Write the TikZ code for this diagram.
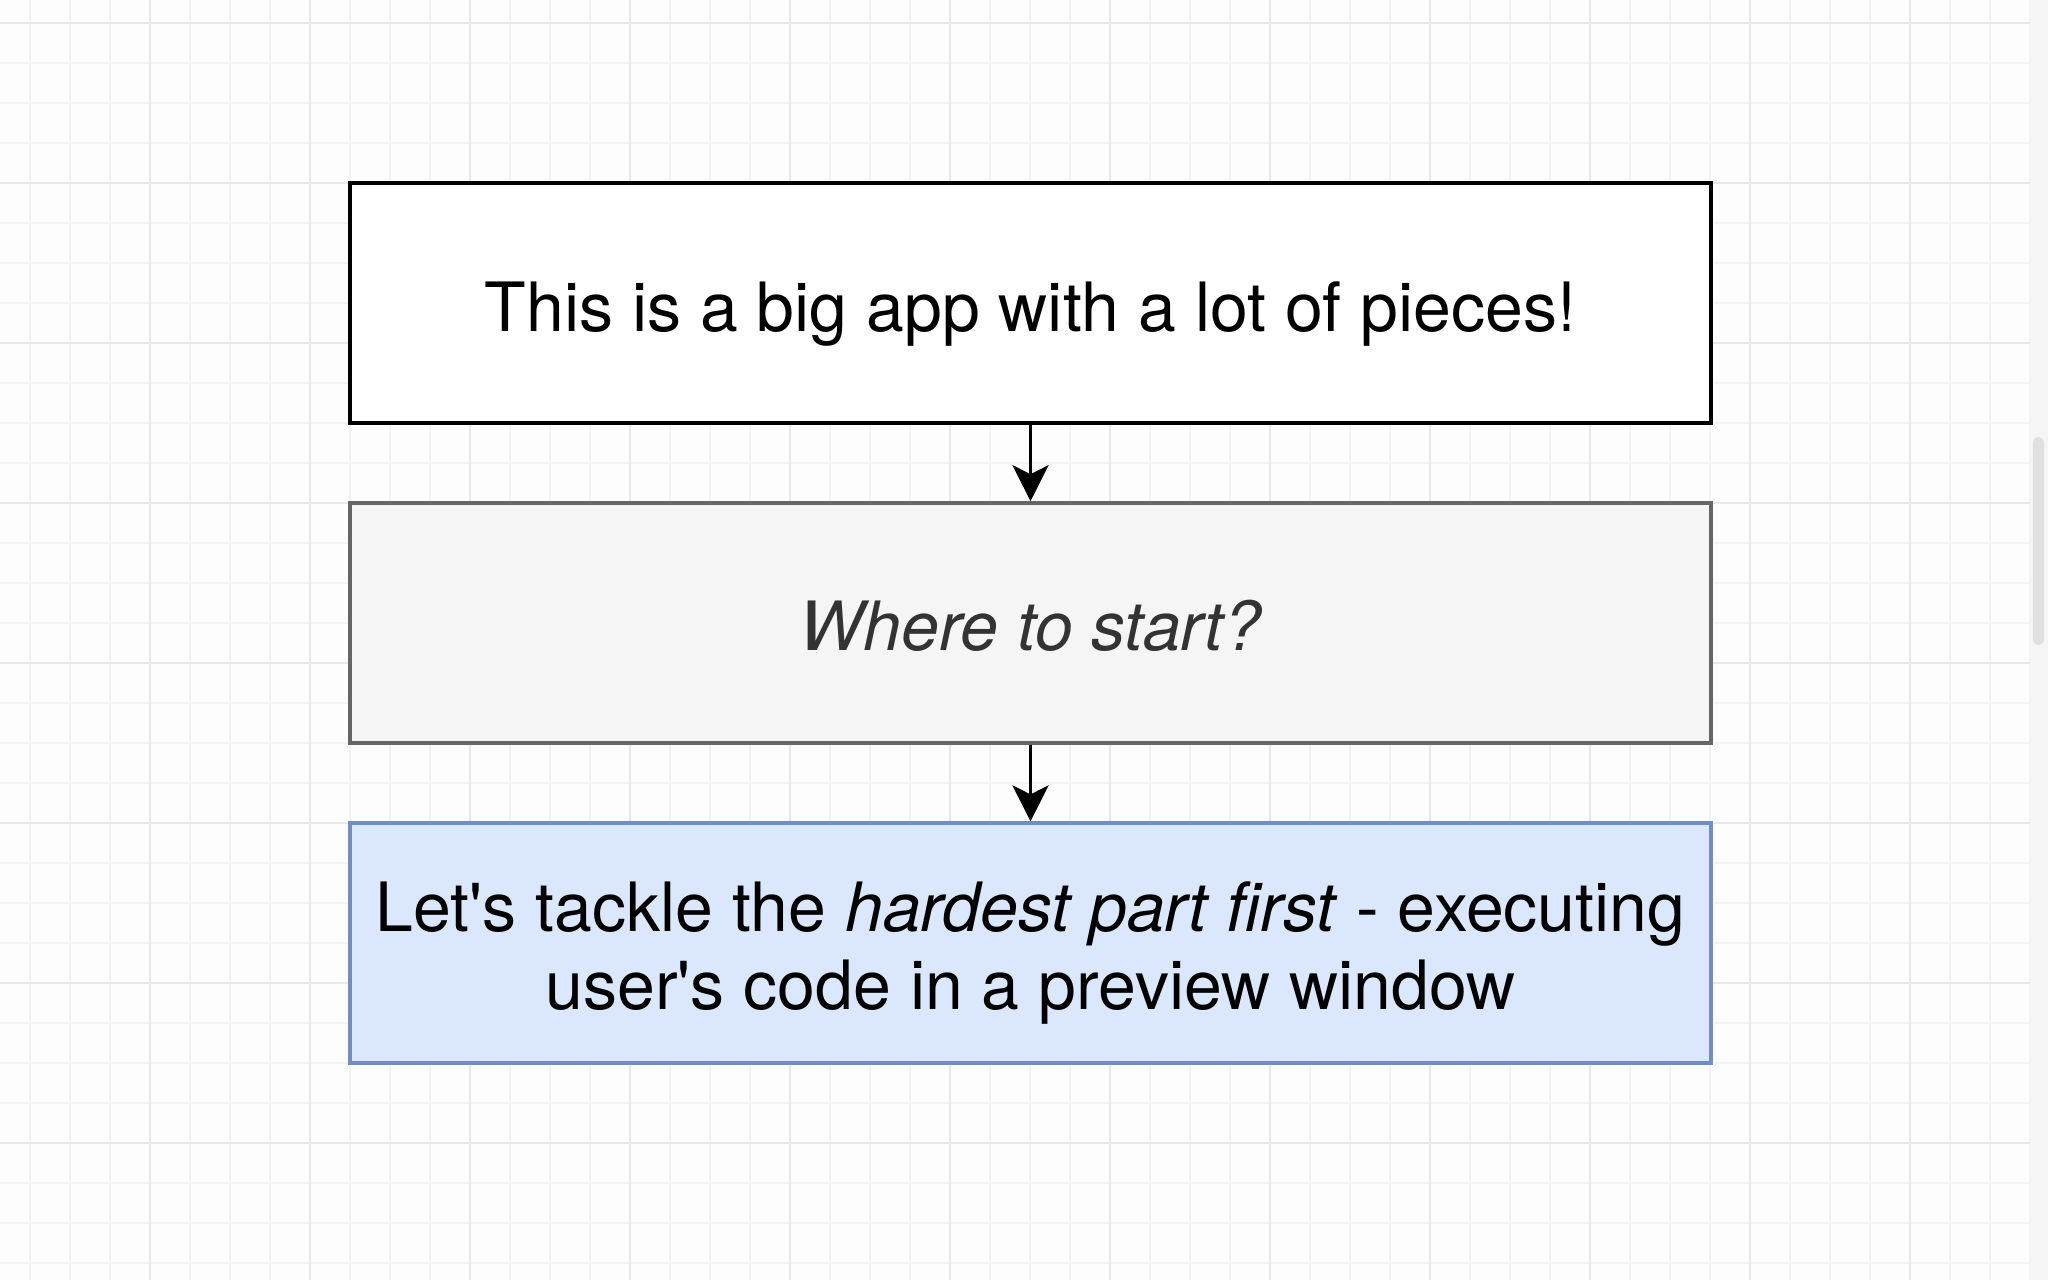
\documentclass[tikz,border=0pt]{standalone}
\usepackage{fontspec}
\setmainfont{TeX Gyre Heros}[Ligatures=TeXOff]
\usetikzlibrary{arrows.meta}
\definecolor{bgc}{HTML}{FDFDFD}
\definecolor{gminor}{HTML}{F3F3F4}
\definecolor{gmajor}{HTML}{E8E8EA}
\definecolor{greyfill}{HTML}{F5F5F6}
\definecolor{greyline}{HTML}{666666}
\definecolor{greytext}{HTML}{333333}
\definecolor{bluefill}{HTML}{DAE7FC}
\definecolor{blueline}{HTML}{6E8FC0}
\tikzset{
  basebox/.style={rectangle, minimum width=680.5pt, minimum height=120pt, inner sep=0pt,
    align=center, font=\fontsize{34}{39}\selectfont, line width=1.8pt},
  whitebox/.style={basebox, draw=black, fill=white, text=black},
  greybox/.style={basebox, draw=greyline, fill=greyfill, text=greytext},
  bluebox/.style={basebox, draw=blueline, fill=bluefill, text=black, line width=1.6pt},
  flow/.style={draw=black, line width=1.7pt, -{Stealth[length=18pt, width=18pt, inset=4.5pt]}},
  minorline/.style={draw=gminor, line width=0.6pt},
  majorline/.style={draw=gmajor, line width=0.8pt}
}
\begin{document}
\begin{tikzpicture}[x=0.5pt, y=-0.5pt]
\useasboundingbox (0,0) rectangle (2048,1280);
\fill[bgc] (0,0) rectangle (2048,1280);
% grid
\foreach \gx in {30,70,...,2030} \draw[minorline] (\gx,0) -- (\gx,1280);
\foreach \gy in {23,63,...,1280} \draw[minorline] (0,\gy) -- (2030,\gy);
\foreach \gx in {150,310,...,2030} \draw[majorline] (\gx,0) -- (\gx,1280);
\foreach \gy in {23,183,...,1280} \draw[majorline] (0,\gy) -- (2030,\gy);
% scrollbar
\fill[white!96!black] (2030,0) rectangle (2048,1280);
\fill[white!88!black, rounded corners=3pt] (2033,437) rectangle (2044,645);
% boxes
\node[whitebox] (big) at (1030.5,303) {\raisebox{0pt}[30pt][2pt]{This is a big app with a lot of pieces!}};
\node[greybox] (where) at (1030.5,623) {\raisebox{0pt}[29pt][2pt]{\itshape Where to start?}};
\node[bluebox] (tackle) at (1030.5,943) {\raisebox{0pt}[20pt][32pt]{\begin{tabular}[t]{@{}c@{}}Let's tackle the \textit{hardest part first} - executing\\user's code in a preview window\end{tabular}}};
% connectors
\draw[flow] (big) -- (where);
\draw[flow] (where) -- (tackle);
\end{tikzpicture}
\end{document}
